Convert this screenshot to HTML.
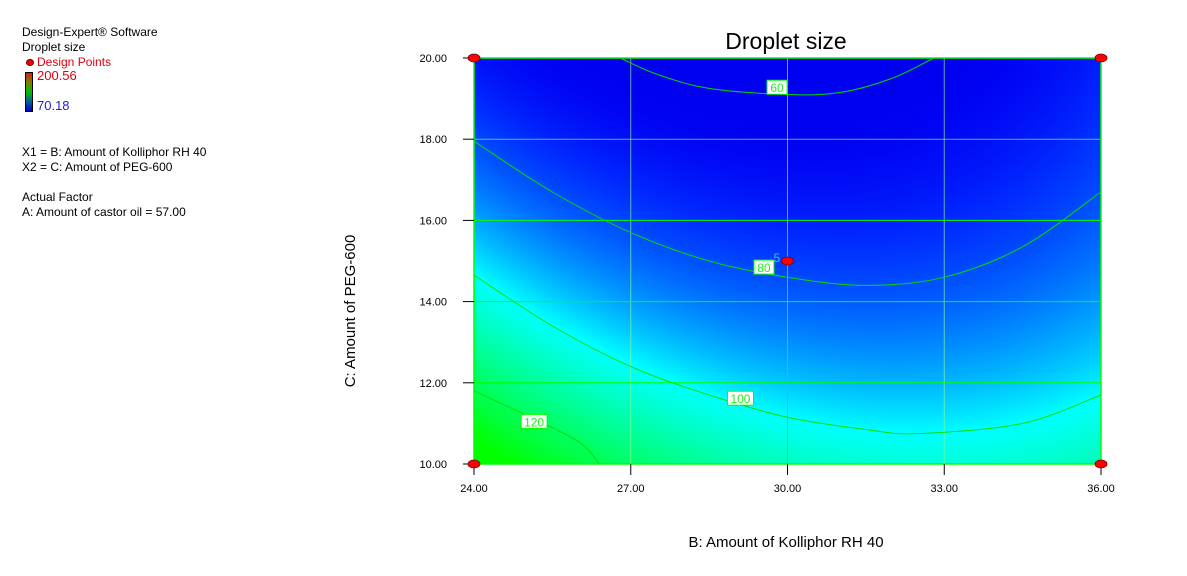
<!DOCTYPE html>
<html><head><meta charset="utf-8">
<style>
body{margin:0;background:#fff;width:1187px;height:576px;overflow:hidden;font-family:"Liberation Sans",sans-serif;}
.t{position:absolute;font-size:12px;color:#000;white-space:nowrap;line-height:14px;}
</style></head>
<body>
<div class="t" style="left:22px;top:25px">Design-Expert® Software</div>
<div class="t" style="left:22px;top:40px">Droplet size</div>
<div style="position:absolute;left:26px;top:59px;width:6px;height:5px;background:#e00;border-radius:50%;border:1px solid #600"></div>
<div class="t" style="left:37px;top:55px;color:#e00010">Design Points</div>
<div style="position:absolute;left:25px;top:72px;width:6px;height:38px;border:1px solid #000;background:linear-gradient(#d02000,#808000,#00c000,#0060a0,#0000c0)"></div>
<div class="t" style="left:37px;top:69px;color:#e00010;font-size:13px">200.56</div>
<div class="t" style="left:37px;top:99px;color:#2020e0;font-size:13px">70.18</div>
<div class="t" style="left:22px;top:145px">X1 = B: Amount of Kolliphor RH 40</div>
<div class="t" style="left:22px;top:160px">X2 = C: Amount of PEG-600</div>
<div class="t" style="left:22px;top:190px">Actual Factor</div>
<div class="t" style="left:22px;top:205px">A: Amount of castor oil = 57.00</div>

<canvas id="cv" width="627" height="406" style="position:absolute;left:474px;top:58px"></canvas>
<svg id="sv" width="1187" height="576" style="position:absolute;left:0;top:0">
<text x="786" y="49" font-size="23" text-anchor="middle" font-family="Liberation Sans">Droplet size</text>
<text x="786" y="547" font-size="15" text-anchor="middle" font-family="Liberation Sans">B: Amount of Kolliphor RH 40</text>
<text transform="translate(355,311) rotate(-90)" font-size="15" text-anchor="middle" font-family="Liberation Sans">C: Amount of PEG-600</text>
<g id="g"></g>
</svg>
<script>
const xTicks=[24,27,30,33,36];
const yTicks=[10,12,14,16,18,20];
const levels=[60,80,100,120];
const c60=[[26.8,20],[27.5,19.6],[28.5,19.25],[30,19.1],[31,19.15],[32,19.5],[32.8,20]];
const c80=[[24,17.95],[25.5,16.7],[27,15.7],[28.5,15.0],[30,14.6],[31.5,14.4],[33,14.6],[34.5,15.35],[36,16.7]];
const c100=[[24,14.65],[25.5,13.4],[27,12.4],[28.5,11.7],[30,11.15],[31.5,10.85],[32.5,10.75],[34.5,11.0],[36,11.7]];
const c120=[[24,11.8],[25,11.2],[26,10.55],[26.4,10.0]];
const contours=[c60,c80,c100,c120];
const labelPos=[[29.8,19.28],[29.55,14.85],[29.1,11.62],[25.15,11.05]];
const designPts=[[24,20],[36,20],[24,10],[36,10],[30,15]];
const X0=474,X1=1101,Y0=464,Y1=58;
const sx=v=>X0+(v-24)/12*(X1-X0), sy=v=>Y0-(v-10)/10*(Y0-Y1);
const NS='http://www.w3.org/2000/svg', g=document.getElementById('g');
function mk(t,a,p){const e=document.createElementNS(NS,t);for(const k in a)e.setAttribute(k,a[k]);(p||g).appendChild(e);return e;}
function smooth(c){const P=c.map(q=>[sx(q[0]),sy(q[1])]);let d='M'+P[0][0]+' '+P[0][1];
 for(let i=0;i<P.length-1;i++){const p0=P[Math.max(0,i-1)],p1=P[i],p2=P[i+1],p3=P[Math.min(P.length-1,i+2)];
 d+='C'+(p1[0]+(p2[0]-p0[0])/6).toFixed(1)+' '+(p1[1]+(p2[1]-p0[1])/6).toFixed(1)+' '+(p2[0]-(p3[0]-p1[0])/6).toFixed(1)+' '+(p2[1]-(p3[1]-p1[1])/6).toFixed(1)+' '+p2[0].toFixed(1)+' '+p2[1].toFixed(1);}
 return d;}
// fit quadratic field to contour points
const rows=[],rhs=[];
contours.forEach((c,i)=>c.forEach(([x,y])=>{const u=x-30,w=y-15;rows.push([1,u,w,u*u,w*w,u*w]);rhs.push(levels[i]);}));
const A=[...Array(6)].map(()=>Array(7).fill(0));
rows.forEach((r,k)=>{for(let i=0;i<6;i++){for(let j=0;j<6;j++)A[i][j]+=r[i]*r[j];A[i][6]+=r[i]*rhs[k];}});
for(let i=0;i<6;i++){let p=i;for(let r=i+1;r<6;r++)if(Math.abs(A[r][i])>Math.abs(A[p][i]))p=r;[A[i],A[p]]=[A[p],A[i]];for(let r=0;r<6;r++)if(r!==i){const f=A[r][i]/A[i][i];for(let j=i;j<7;j++)A[r][j]-=f*A[i][j];}}
const co=A.map((r,i)=>r[6]/r[i]);
const ctx=document.getElementById('cv').getContext('2d');
const img=ctx.createImageData(627,406);
for(let py=0;py<406;py++)for(let px=0;px<627;px++){
 const u=px/627*12-6,w=5-py/406*10;
 const v=co[0]+co[1]*u+co[2]*w+co[3]*u*u+co[4]*w*w+co[5]*u*w;
 let r=0,gg,b;
 if(v<100){const t=Math.max(0,(v-62)/38);gg=255*Math.pow(t,1.6);b=240+15*Math.min(1,t*3);}
 else{const t=Math.min(1,(v-100)/30);gg=255;b=255*(1-t);}
 const k=(py*627+px)*4;img.data[k]=r;img.data[k+1]=gg;img.data[k+2]=b;img.data[k+3]=255;}
ctx.putImageData(img,0,0);
// grid
xTicks.slice(1,-1).forEach(v=>{const l=mk('line',{x1:sx(v),x2:sx(v),y1:Y1,y2:Y0,stroke:v===30?'#00ff00':'rgba(140,255,140,0.65)','stroke-width':1});});
yTicks.slice(1,-1).forEach(v=>{const l=mk('line',{y1:sy(v),y2:sy(v),x1:X0,x2:X1,stroke:v===18?'rgba(140,255,140,0.65)':'#00ff00','stroke-width':1});});
const fr=mk('rect',{x:X0,y:Y1,width:X1-X0,height:Y0-Y1,fill:'none',stroke:'#00ff00','stroke-width':1.5});


// ticks & labels
xTicks.forEach(v=>{mk('line',{x1:sx(v),x2:sx(v),y1:Y0,y2:Y0+11,stroke:'#000'});const t=mk('text',{x:sx(v),y:Y0+28,'font-size':11,'text-anchor':'middle','font-family':'Liberation Sans'});t.textContent=v.toFixed(2);});
yTicks.forEach(v=>{mk('line',{x1:X0-11,x2:X0,y1:sy(v),y2:sy(v),stroke:'#000'});const t=mk('text',{x:X0-27,y:sy(v)+4,'font-size':11,'text-anchor':'end','font-family':'Liberation Sans'});t.textContent=v.toFixed(2);});
// contours
contours.forEach((c,i)=>{
 const p=mk('path',{d:smooth(c),fill:'none',stroke:'#00dd00','stroke-width':1});
 
 
 const lx=sx(labelPos[i][0]),ly=sy(labelPos[i][1]);
 const w=levels[i]>=100?26:20;
 const r=mk('rect',{x:lx-w/2,y:ly-7,width:w,height:14,fill:'#fff',stroke:'#00ff00','stroke-width':1});
 
 
 const t=mk('text',{x:lx,y:ly+5,'font-size':12,'text-anchor':'middle',fill:'#22ee22','font-family':'Liberation Sans'});t.textContent=levels[i];
 
 
});
// design points
designPts.forEach(q=>{const e=mk('ellipse',{cx:sx(q[0]),cy:sy(q[1]),rx:6,ry:4,fill:'#ff0000',stroke:'#700','stroke-width':0.8});
 
 });
const n=mk('text',{x:sx(30)-14,y:sy(15)+1,'font-size':12,fill:'#40c0c0','font-family':'Liberation Sans'});n.textContent='5';


</script>
</body></html>
